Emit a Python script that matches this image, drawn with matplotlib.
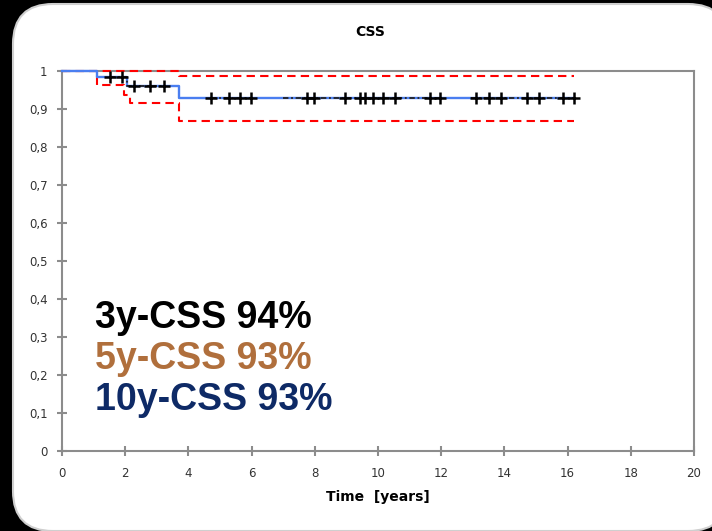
import numpy as np
import matplotlib
matplotlib.use("Agg")
import matplotlib.pyplot as plt
from matplotlib.patches import FancyBboxPatch

# Kaplan-Meier step curve (cancer specific survival)
km_times = [0, 1.1, 2.05, 3.7, 16.2]
km_surv = [1.0, 0.985, 0.96, 0.93, 0.93]

# 95% confidence limits
upper_times = [0, 3.7, 16.2]
upper_surv = [1.0, 0.988, 0.988]
lower_times = [0, 1.1, 1.95, 2.15, 3.7, 16.2]
lower_surv = [1.0, 0.962, 0.938, 0.916, 0.868, 0.868]

# censored observations, grouped as drawn
censor_groups = [
    [1.52, 1.9, 2.28, 2.78, 3.23],
    [4.7, 5.3, 5.63, 5.98],
    [7.74, 7.97, 8.96, 9.43, 9.59, 9.84, 10.15, 10.55, 11.65, 11.96],
    [13.1, 13.5, 13.9, 14.7, 15.1, 15.85, 16.2],
]
censor_line_start = [1.52, 4.7, 7.0, 12.95]

summary_lines = ["3y-CSS 94%", "5y-CSS 93%", "10y-CSS 93%"]
summary_colors = ["#000000", "#b06f3c", "#0e2a66"]
summary_y = [0.325, 0.215, 0.108]

x_ticks = list(range(0, 21, 2))
y_ticks = [i / 10 for i in range(11)]
y_labels = ["0"] + ["0," + str(i) for i in range(1, 10)] + ["1"]


def km_at(t):
    idx = np.searchsorted(km_times, t, side="right") - 1
    return km_surv[max(idx, 0)]


W, H = 712, 531
fig = plt.figure(figsize=(W / 100, H / 100), dpi=100, facecolor="black")

bg = fig.add_axes([0, 0, 1, 1])
bg.set_xlim(0, W)
bg.set_ylim(H, 0)
bg.axis("off")
bg.add_patch(FancyBboxPatch((13, 4), 715, 527,
                            boxstyle="round,pad=0,rounding_size=40",
                            fc="white", ec="#cfcfcf", lw=1.5))

ax = fig.add_axes([62 / W, 80 / H, 632 / W, 380 / H])
ax.set_facecolor("white")

ax.step(km_times, km_surv, where="post", color="#4a7ef0", lw=1.7,
        zorder=3.5, clip_on=False)
ax.step(upper_times, upper_surv, where="post", color="#ff0000", lw=1.5,
        ls=(0, (4, 2.5)), zorder=3, clip_on=False)
ax.step(lower_times, lower_surv, where="post", color="#ff0000", lw=1.5,
        ls=(0, (4, 2.5)), zorder=3)

for start, grp in zip(censor_line_start, censor_groups):
    end = grp[-1]
    xs = [start] + [t for t in km_times if start < t < end] + [end]
    ys = [km_at(t) for t in xs]
    ax.step(xs, ys, where="post", color="#222222", lw=1.3,
            ls=(0, (3, 1.5, 1, 1.5)), zorder=4)
    ax.plot(grp, [km_at(t) for t in grp], ls="none", marker="+",
            ms=9, mew=1.8, color="black", zorder=5)

for txt, c, y in zip(summary_lines, summary_colors, summary_y):
    ax.text(1.04, y, txt, color=c, fontsize=27, fontweight="bold",
            family="Liberation Sans", va="baseline", ha="left")

ax.set_xlim(0, 20)
ax.set_ylim(0, 1)
ax.set_xticks(x_ticks)
ax.set_xticklabels([str(v) for v in x_ticks])
ax.set_yticks(y_ticks)
ax.set_yticklabels(y_labels)
for s in ax.spines.values():
    s.set_color("#8c8c8c")
    s.set_linewidth(1.5)
ax.tick_params(direction="inout", length=7, width=1.5, color="#8c8c8c",
               labelsize=8.5, labelcolor="#333333")
ax.tick_params(axis="y", pad=7)
ax.tick_params(axis="x", pad=8)

fig.text(370 / W, 1 - 32 / H, "CSS", ha="center", va="center",
         fontsize=10, fontweight="bold")
fig.text(378 / W, 1 - 497 / H, "Time  [years]", ha="center", va="center",
         fontsize=10, fontweight="bold")

fig.savefig("out.png", dpi=100, facecolor="black")
